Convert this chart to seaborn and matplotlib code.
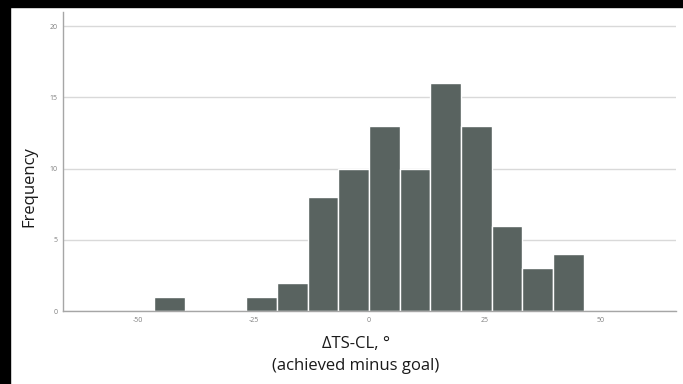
import numpy as np
import pandas as pd
import seaborn as sns
import matplotlib.pyplot as plt
from matplotlib.patches import Rectangle

# Histogram of achieved minus goal TS-CL difference (degrees)
bin_index = [-7, -6, -5, -4, -3, -2, -1, 0, 1, 2, 3, 4, 5, 6]
counts = [1, 0, 0, 1, 2, 8, 10, 13, 10, 16, 13, 6, 3, 4]
bin_width = 6.63
x_ticks = [-50, -25, 0, 25, 50]
y_ticks = [0, 5, 10, 15, 20]

edges = [k * bin_width for k in bin_index] + [(bin_index[-1] + 1) * bin_width]
df = pd.DataFrame({
    "delta": [(k + 0.5) * bin_width for k in bin_index],
    "count": counts,
})

sns.set_theme(style="white")
plt.rcParams["font.family"] = ["Open Sans", "DejaVu Sans"]
plt.rcParams["axes.unicode_minus"] = False

fig = plt.figure(figsize=(6.83, 3.84), dpi=100)
fig.patch.set_facecolor("white")
ax = fig.add_axes([63 / 683, 1 - 311 / 384, 613 / 683, 299 / 384])

ax.yaxis.grid(True, color="#d9d9d9", linewidth=1.0)
ax.set_axisbelow(True)

sns.histplot(data=df, x="delta", weights="count", bins=edges,
             color="#596360", alpha=1.0, edgecolor="white", linewidth=1.0,
             ax=ax)

ax.set_xlim(-66.2, 66.4)
ax.set_ylim(0, 21)
ax.set_xticks(x_ticks)
ax.set_yticks(y_ticks)
ax.tick_params(axis="both", length=0, labelsize=5, colors="#7f7f7f", pad=4)

for side in ["top", "right"]:
    ax.spines[side].set_visible(False)
for side in ["left", "bottom"]:
    ax.spines[side].set_color("#a6a6a6")
    ax.spines[side].set_linewidth(1.0)

ax.set_ylabel("Frequency", fontsize=12, color="#1a1a1a")
ax.yaxis.set_label_coords(-0.042, 0.415)
ax.set_xlabel("ΔTS-CL, °\n(achieved minus goal)", fontsize=12,
              color="#1a1a1a", linespacing=1.55)
ax.xaxis.set_label_coords(0.478, -0.082)

# Dark frame strips at the top and left edges
fig.patches.append(Rectangle((0, 1 - 7 / 384), 1, 7 / 384,
                             transform=fig.transFigure, color="black", zorder=10))
fig.patches.append(Rectangle((0, 0), 10 / 683, 1,
                             transform=fig.transFigure, color="black", zorder=10))

fig.savefig("out.png", dpi=100)
